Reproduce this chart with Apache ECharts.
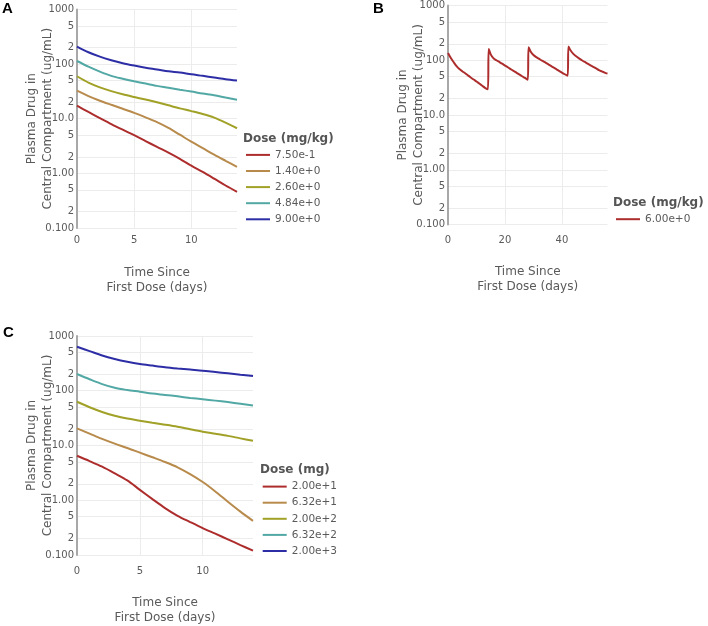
<!DOCTYPE html>
<html>
<head>
<meta charset="utf-8">
<script src="https://cdn.jsdelivr.net/npm/echarts@6/dist/echarts.min.js"></script>
<style>
html,body{margin:0;padding:0;background:#fff;}
#chart{width:708px;height:626px;}
</style>
</head>
<body>
<div id="chart"></div>
<script>
// ---------- data ----------
const daysAC = [0,1,2,3,4,5,6,7,8,9,10,11,12,13,14];

const doseA = ['7.50e-1','1.40e+0','2.60e+0','4.84e+0','9.00e+0'];
const aRed   = [17.3,13.3,10.3,8.0,6.3,5.0,3.9,3.05,2.4,1.85,1.38,1.06,0.8,0.6,0.46];
const aTan   = [32.6,26,21.4,18,15.2,12.8,10.6,8.7,6.8,5.1,3.8,2.9,2.2,1.7,1.32];
const aOlive = [60,46,37.6,32,28,25,22.5,20,17.6,15.5,13.8,12.2,10.5,8.5,6.7];
const aTeal  = [114,90,73,61,54,48.5,44,40,37,34,31.5,29,27,24.5,22.3];
const aBlue  = [210,165,137,118,104,94,86,80,74,70,65,61,57,53,50];

const doseB = ['6.00e+0'];
const tB = [0,1,2,3,4,5,6,7,8,9,10,11,12,13,14,
            14.3,15,16,17,18,19,20,21,22,23,24,25,26,27,28,
            28.3,29,30,31,32,33,34,35,36,37,38,39,40,41,42,
            42.3,43,44,45,46,47,48,49,50,51,52,53,54,55,56];
const vB = [136,110,92,78,69,63,58,53,48.5,44.5,41,37.5,34.3,31.4,29.6,
            160,128,108,100,93,86.5,80,74.5,69,64,59.5,55,51,47.5,44,
            172,145,125,114,106,98.5,92,85.5,79.5,74,69,64,59.5,55.5,52,
            179,152,131,118,108,100,93,87,81,76,71,66,62.5,59.5,57];

const doseC = ['2.00e+1','6.32e+1','2.00e+2','6.32e+2','2.00e+3'];
const cRed   = [6.5,5.2,4.1,3.1,2.3,1.55,1.05,0.72,0.52,0.4,0.31,0.245,0.193,0.152,0.12];
const cTan   = [20.6,16.5,13.2,10.8,9.0,7.4,6.1,5.0,4.0,3.0,2.15,1.45,0.94,0.62,0.42];
const cOlive = [63,50,41,35,31,28.4,26,24,22,19.8,17.9,16.4,15,13.5,12.2];
const cTeal  = [202,162,132,113,103,96,89,84,79,74,70,66,62,58,54];
const cBlue  = [638,530,440,380,338,308,288,270,256,244,233,220,208,196,186];

const yTicks = [0.1,0.2,0.5,1,2,5,10,20,50,100,200,500,1000];
const xTicksAC = [0,5,10];
const xTicksB = [0,20,40];

// ---------- styling ----------
const colors = ['#ad2d2d','#b88b4c','#a1a128','#52a8a4','#2d2da6'];
const FONT = 'DejaVu Sans';
const txt = '#5a5a5a';

function yFmt(v){
  const e = Math.floor(Math.log10(v) + 1e-9);
  const m = Math.round(v / Math.pow(10, e));
  if (m === 1) {
    if (Math.abs(v-0.1)<1e-9) return '0.100';
    if (Math.abs(v-1)<1e-9) return '1.00';
    if (Math.abs(v-10)<1e-9) return '10.0';
    return String(Math.round(v));
  }
  return String(m);
}

function yAxis(gi){
  return {
    type:'log', gridIndex:gi, min:0.1, max:1000, logBase:10,
    name:'Plasma Drug in\nCentral Compartment (ug/mL)',
    nameLocation:'middle', nameGap:21, nameRotate:90, nameMoveOverlap:false,
    nameTextStyle:{fontFamily:FONT,fontSize:12,color:txt,lineHeight:16},
    axisLine:{show:true,lineStyle:{color:'#a8a8a8',width:2}},
    axisTick:{show:false, customValues:yTicks},
    axisLabel:{fontFamily:FONT,fontSize:10,color:txt,margin:3,formatter:yFmt,customValues:yTicks},
    splitLine:{show:true,lineStyle:{color:'#ececec',width:1}},
    minorSplitLine:{show:false}
  };
}
function xAxis(gi, max, ticks, margin, gap){
  return {
    type:'value', gridIndex:gi, min:0, max:max,
    name:'Time Since\nFirst Dose (days)',
    nameLocation:'middle', nameGap:gap, nameMoveOverlap:false,
    nameTextStyle:{fontFamily:FONT,fontSize:12,color:txt,lineHeight:15},
    axisLine:{show:false}, axisTick:{show:false, customValues:ticks},
    axisLabel:{fontFamily:FONT,fontSize:10,color:txt,margin:margin,customValues:ticks},
    splitLine:{show:true,lineStyle:{color:'#ececec',width:1}}
  };
}
function mk(name, xs, ys, color, xi){
  return {
    type:'line', name:name, xAxisIndex:xi, yAxisIndex:xi,
    data: xs.map((x,i)=>[x, ys[i]]),
    smooth:0.3, symbol:'none', lineStyle:{color:color,width:2}, itemStyle:{color:color},
    animation:false
  };
}
function legendOpt(names, left, top){
  return {
    data:names, orient:'vertical', left:left, top:top,
    itemWidth:24, itemHeight:14, itemGap:4.9, padding:0, selectedMode:false,
    itemStyle:{opacity:0, color:'rgba(0,0,0,0)', borderWidth:0},
    lineStyle:{width:2},
    textStyle:{fontFamily:FONT,fontSize:10.5,color:txt}
  };
}
function titleOpt(text, left, top, size, fam, col){
  return {text:text,left:left,top:top,padding:0,
    textStyle:{fontFamily:fam||FONT,fontSize:size||12,fontWeight:'bold',color:col||'#555',lineHeight:14}};
}

const seriesA = [aRed,aTan,aOlive,aTeal,aBlue];
const seriesC = [cRed,cTan,cOlive,cTeal,cBlue];

const option = {
  animation:false,
  title:[
    titleOpt('A',2,2,15,'Liberation Sans','#000'),
    titleOpt('B',373,2,15,'Liberation Sans','#000'),
    titleOpt('C',3,326,15,'Liberation Sans','#000'),
    titleOpt('Dose (mg/kg)',243,132),
    titleOpt('Dose (mg/kg)',613,196),
    titleOpt('Dose (mg)',260,463)
  ],
  grid:[
    {left:77,top:9.5,width:160,height:218.5},
    {left:448,top:5.5,width:159.5,height:219},
    {left:77,top:336,width:176,height:219}
  ],
  xAxis:[xAxis(0,14,xTicksAC,7,37), xAxis(1,56,xTicksB,11,40), xAxis(2,14,xTicksAC,11,40)],
  yAxis:[yAxis(0), yAxis(1), yAxis(2)],
  legend:[
    legendOpt(doseA,245,149.3),
    legendOpt(doseB,615,213.6),
    legendOpt(doseC,261.7,481)
  ],
  series:[
    ...seriesA.map((s,i)=>mk(doseA[i],daysAC,s,colors[i],0)),
    mk(doseB[0],tB,vB,colors[0],1),
    ...seriesC.map((s,i)=>mk(doseC[i],daysAC,s,colors[i],2))
  ]
};
const chart = echarts.init(document.getElementById('chart'),null,{renderer:'canvas'});
chart.setOption(option);
</script>
</body>
</html>
